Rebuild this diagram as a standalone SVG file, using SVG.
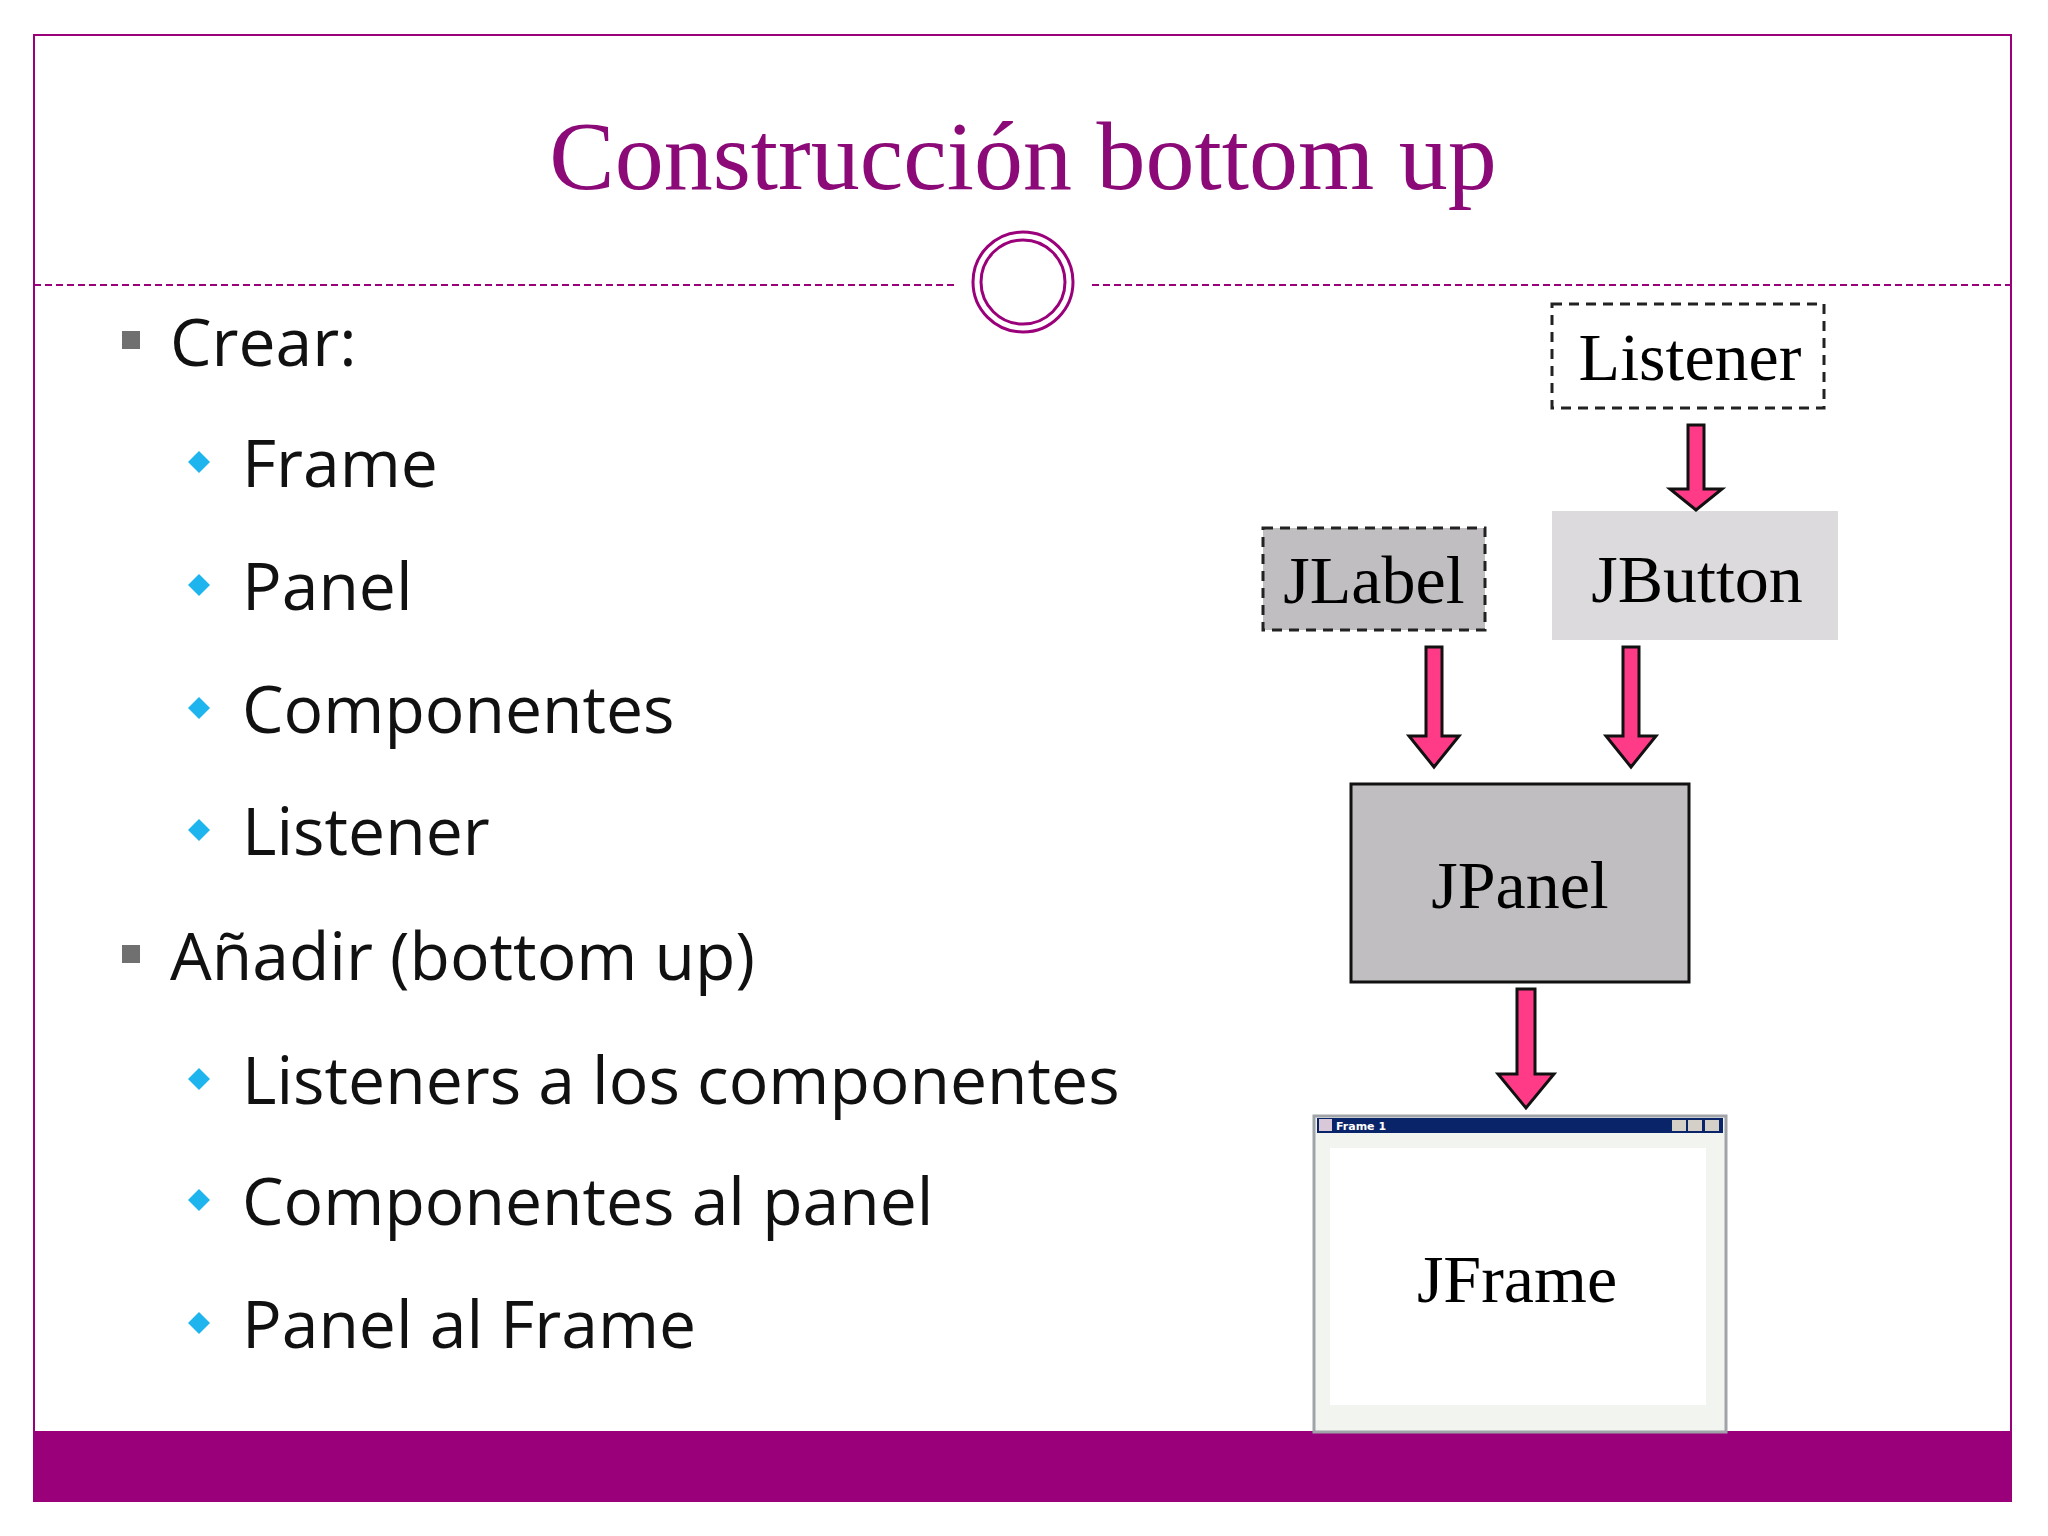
<svg xmlns="http://www.w3.org/2000/svg" width="2048" height="1536" viewBox="0 0 2048 1536">
<style>
.b{font-family:"Open Sans","DejaVu Sans",sans-serif;font-size:66px;fill:#111}
.n{font-family:"Liberation Serif","Times New Roman",serif;font-size:68px;fill:#000;text-anchor:middle}
.arr{fill:#FF3B87;stroke:#111;stroke-width:3}
.sq{fill:#707070}
.dm{fill:#1EB4EE}
</style>
<rect width="2048" height="1536" fill="#fff"/>
<rect x="34" y="35" width="1977" height="1466" fill="none" stroke="#9B007B" stroke-width="2"/>
<rect x="33" y="1431" width="1979" height="71" fill="#9B007B"/>
<text x="1023" y="189" font-family="Liberation Serif,serif" font-size="98" fill="#8B0A78" text-anchor="middle">Construcción bottom up</text>
<line x1="34" y1="285" x2="955" y2="285" stroke="#9B007B" stroke-width="2" stroke-dasharray="7,4"/>
<line x1="1092" y1="285" x2="2011" y2="285" stroke="#9B007B" stroke-width="2" stroke-dasharray="7,4"/>
<circle cx="1023" cy="282" r="50" fill="#fff" stroke="#9B007B" stroke-width="3"/>
<circle cx="1023" cy="282" r="42" fill="none" stroke="#9B007B" stroke-width="3"/>
<g id="bullets">
<rect class="sq" x="122" y="331" width="18" height="18"/>
<text class="b" x="170" y="366">Crear:</text>
<path class="dm" d="M199 451l11 11-11 11-11-11z"/><text class="b" x="242" y="487">Frame</text>
<path class="dm" d="M199 574l11 11-11 11-11-11z"/><text class="b" x="242" y="610">Panel</text>
<path class="dm" d="M199 697l11 11-11 11-11-11z"/><text class="b" x="242" y="733">Componentes</text>
<path class="dm" d="M199 819l11 11-11 11-11-11z"/><text class="b" x="242" y="855">Listener</text>
<rect class="sq" x="122" y="945" width="18" height="18"/>
<text class="b" x="170" y="980">Añadir (bottom up)</text>
<path class="dm" d="M199 1068l11 11-11 11-11-11z"/><text class="b" x="242" y="1104">Listeners a los componentes</text>
<path class="dm" d="M199 1189l11 11-11 11-11-11z"/><text class="b" x="242" y="1225">Componentes al panel</text>
<path class="dm" d="M199 1312l11 11-11 11-11-11z"/><text class="b" x="242" y="1348">Panel al Frame</text>
</g>
<g id="listener"><rect x="1552" y="304" width="272" height="104" fill="#fff" stroke="#222" stroke-width="3" stroke-dasharray="10,7"/><text class="n" x="1690" y="380">Listener</text></g>
<g id="jbutton"><rect x="1552" y="511" width="286" height="129" fill="#DCDADC"/><text class="n" x="1697" y="602">JButton</text></g>
<g id="jlabel"><rect x="1263" y="528" width="222" height="102" fill="#C0BEC0" stroke="#222" stroke-width="3" stroke-dasharray="10,7"/><text class="n" x="1374" y="603">JLabel</text></g>
<g id="jpanel"><rect x="1351" y="784" width="338" height="198" fill="#C0BEC0" stroke="#111" stroke-width="3"/><text class="n" x="1520" y="908">JPanel</text></g>
<g id="jframe">
<rect x="1314" y="1116" width="412" height="316" fill="#F2F4F0" stroke="#A0A4A8" stroke-width="3"/>
<rect x="1317" y="1118" width="406" height="15" fill="#0A246A"/>
<text x="1336" y="1130" font-family="DejaVu Sans,sans-serif" font-size="11" font-weight="bold" fill="#fff">Frame 1</text>
<rect x="1319" y="1119" width="13" height="12" fill="#d8c8d8"/>
<rect x="1672" y="1120" width="14" height="11" fill="#D4D0C8"/><rect x="1688" y="1120" width="14" height="11" fill="#D4D0C8"/><rect x="1705" y="1120" width="14" height="11" fill="#D4D0C8"/>
<rect x="1330" y="1148" width="376" height="257" fill="#fff"/>
<text class="n" x="1517" y="1302">JFrame</text>
</g>
<g id="connectors">
<path class="arr" d="M1688 425h16v64h18l-26 21-26-21h18z"/>
<path class="arr" d="M1426 647h16v89h17l-25 31-25-31h17z"/>
<path class="arr" d="M1623 647h16v89h17l-25 31-25-31h17z"/>
<path class="arr" d="M1517 989h18v85h19l-28 34-28-34h19z"/>
</g>
</svg>
